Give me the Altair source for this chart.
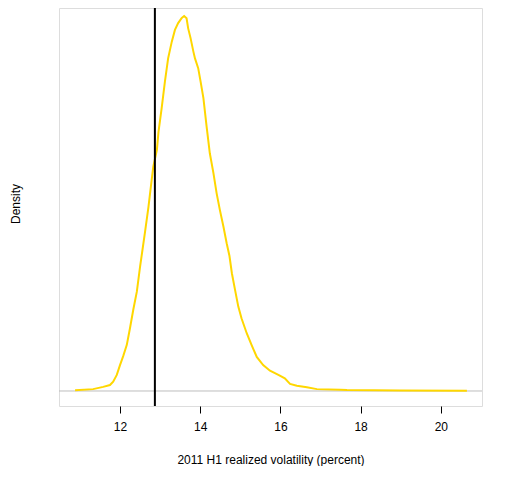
import altair as alt
import pandas as pd

# Density curve (x in percent, density relative to peak ~0.55)
vol = [10.88, 11.33, 11.58, 11.75, 11.83, 11.92, 12.00, 12.08, 12.17, 12.25,
       12.33, 12.42, 12.50, 12.56, 12.62, 12.71, 12.79, 12.83, 12.92, 12.96,
       13.00, 13.04, 13.12, 13.20, 13.29, 13.37, 13.45, 13.54, 13.60, 13.66,
       13.70, 13.76, 13.83, 13.87, 13.95, 14.01, 14.08, 14.16, 14.24, 14.33,
       14.41, 14.49, 14.58, 14.66, 14.73, 14.79, 14.87, 14.95, 15.03, 15.16,
       15.28, 15.41, 15.57, 15.74, 15.95, 16.11, 16.24, 16.41, 16.66, 16.91,
       17.49, 17.66, 18.98, 20.65]
rel = [0.002, 0.005, 0.011, 0.016, 0.025, 0.043, 0.069, 0.093, 0.123, 0.168,
       0.216, 0.265, 0.331, 0.376, 0.421, 0.491, 0.563, 0.598, 0.643, 0.691,
       0.723, 0.755, 0.825, 0.887, 0.931, 0.963, 0.981, 0.995, 1.000, 0.994,
       0.967, 0.941, 0.905, 0.887, 0.861, 0.825, 0.781, 0.705, 0.634, 0.581,
       0.527, 0.483, 0.438, 0.394, 0.360, 0.314, 0.269, 0.225, 0.194, 0.154,
       0.123, 0.091, 0.069, 0.054, 0.043, 0.034, 0.019, 0.014, 0.010, 0.005,
       0.0035, 0.0027, 0.0013, 0.001]
peak = 0.55
density = [round(r * peak, 5) for r in rel]
actual = 12.87
x_ticks = [12, 14, 16, 18, 20]

df = pd.DataFrame({"vol": vol, "density": density})

FONT = "Liberation Sans"
xscale = alt.Scale(domain=[10.479, 21.027], nice=False, zero=False)
yscale = alt.Scale(domain=[-0.04 * peak, 1.02133 * peak], nice=False, zero=False)

curve = alt.Chart(df).mark_line(color="#FFD700", strokeWidth=2, clip=True).encode(
    x=alt.X("vol:Q", scale=xscale,
            axis=alt.Axis(values=x_ticks, title="2011 H1 realized volatility (percent)",
                          grid=False, domain=False, tickColor="black", tickSize=7,
                          labelPadding=8, labelColor="black", labelFont=FONT,
                          labelFontSize=12, titleFont=FONT, titleFontSize=12,
                          titleFontWeight="normal", titleColor="black",
                          titleY=57, titleBaseline="alphabetic", labelFlush=False)),
    y=alt.Y("density:Q", scale=yscale,
            axis=alt.Axis(title="Density", grid=False, domain=False, ticks=False,
                          labels=False, titleFont=FONT, titleFontSize=12,
                          titleFontWeight="normal", titleColor="black",
                          titleX=-44, titleY=195.5, titleBaseline="middle",
                          titleAlign="center", titleAngle=-90)),
)

zero_line = alt.Chart(pd.DataFrame({"y": [0]})).mark_rule(
    color="#BEBEBE", strokeWidth=1).encode(y=alt.Y("y:Q", scale=yscale))

vline = alt.Chart(pd.DataFrame({"x": [actual]})).mark_rule(
    color="black", strokeWidth=2).encode(x=alt.X("x:Q", scale=xscale))

chart = alt.layer(zero_line, curve, vline).properties(
    width=423, height=398,
    autosize=alt.AutoSizeParams(type="none"),
    padding={"left": 51, "top": 0, "right": 20, "bottom": 60},
).configure_view(stroke="black", strokeWidth=1).configure(background="white")

chart.save("out.html", embed_options={"renderer": "svg", "actions": False})
